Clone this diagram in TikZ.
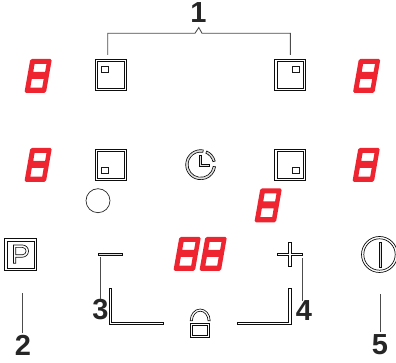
\documentclass[tikz,border=0pt]{standalone}
\usepackage{fontspec}
\setmainfont{Liberation Sans}
\usepackage{tikz}
\usetikzlibrary{arrows.meta,positioning}
\definecolor{segred}{RGB}{238,36,48}

\begin{document}
\begin{tikzpicture}[x=1pt,y=1pt,
zone box/.style={draw=black!95,line width=.8pt,minimum size=31pt,inner sep=0pt,outer sep=0pt},
zone inner/.style={draw=black!95,line width=.8pt,minimum size=26.6pt,inner sep=0pt},
zone mark/.style={draw=black!90,line width=.7pt,minimum size=6.4pt,inner sep=0pt},
key line/.style={draw=black!95,fill=black!12,line width=.65pt},
key thin/.style={draw=black!95,line width=.7pt},
leader/.style={draw=black!70,line width=.9pt},
callout/.style={font=\fontsize{29}{29}\selectfont\bfseries,text=black!85,inner sep=0pt},
seg eight/.pic={\fill[segred,even odd rule,rounded corners=1.6pt]
 (-13.6,-16.9) -- (-7.6,17.1) -- (13.9,17.1) -- (7.9,-16.9) -- cycle
 [sharp corners] (-4.8,4) -- (-3.4,12) -- (8.5,12) -- (7.1,4) -- cycle
 (-7.7,-11.7) -- (-6.2,-3) -- (5.7,-3) -- (4.2,-11.7) -- cycle;}]
\useasboundingbox (0,0) rectangle (396,363);
% red digits
\path (38,287) pic {seg eight};
\path (366.5,287) pic {seg eight};
\path (38,198) pic {seg eight};
\path (366,198) pic {seg eight};
\path (268,157.5) pic {seg eight};
\path (187,109) pic {seg eight};
\path (213,109) pic {seg eight};
% zones
\node[zone box] (zone tl) at (110.8,288) {};
\node[zone box] (zone tr) at (290.2,288) {};
\node[zone box] (zone bl) at (110.8,198) {};
\node[zone box] (zone br) at (290.2,198) {};
\node[zone inner] (inner tl) at (zone tl) {};
\node[zone inner] (inner tr) at (zone tr) {};
\node[zone inner] (inner bl) at (zone bl) {};
\node[zone inner] (inner br) at (zone br) {};
\node[zone mark] (mark tl) at (105,293.6) {};
\node[zone mark] (mark tr) at (296,293.6) {};
\node[zone mark] (mark bl) at (105,192.6) {};
\node[zone mark] (mark br) at (295.7,192.6) {};
% timer
\coordinate (clock c) at (200.7,198.3);
\draw[key line] (clock c) ++(80:15) arc (80:352:15) -- ++(352:-2.4) arc (352:80:12.6) -- cycle;
\draw[key line] (clock c) ++(66:15) arc (66:14:15) -- ++(14:-2.4) arc (14:66:12.6) -- cycle;
\draw[key line] (199.2,207.5) -- (199.2,196.2) -- (209.3,196.2) -- (209.3,198.2) -- (201.2,198.2) -- (201.2,207.5) -- cycle;
\node[draw=black!85,circle,line width=.7pt,minimum size=24pt,inner sep=0pt] (spare) at (98,162.3) {};
% keys
\node[zone box,minimum size=32pt] (park) at (20.7,108.5) {};
\node[zone inner,minimum size=27pt] (park inner) at (park) {};
\draw[key line,fill=white] (13.5,99.8) -- (13.5,118) -- (22.4,118) arc (90:-90:6.1) -- (15.8,105.8) -- (15.8,99.8) -- cycle
 (15.8,115.6) -- (22.4,115.6) arc (90:-90:3.7) -- (15.8,108.2) -- cycle;
\node[draw=black!95,circle,line width=.7pt,minimum size=36pt,inner sep=0pt] (power) at (379.5,108.5) {};
\node[draw=black!95,circle,line width=.7pt,minimum size=31.4pt,inner sep=0pt] (power inner) at (power) {};
\draw[key line] (379.5,96) rectangle (381.8,121);
\draw[key line] (98.7,107.5) rectangle (122.7,110);
\draw[key line,fill=white] (277.3,107.5) -- (288.8,107.5) -- (288.8,96.3) -- (291.2,96.3) -- (291.2,107.5) -- (302.7,107.5) -- (302.7,110) -- (291.2,110) -- (291.2,120.7) -- (288.8,120.7) -- (288.8,110) -- (277.3,110) -- cycle;
\draw[key line,fill=white] (109,74.7) -- (109,38.6) -- (163.4,38.6) -- (163.4,40.8) -- (111.2,40.8) -- (111.2,74.7) -- cycle;
\draw[key line,fill=white] (290.9,74.7) -- (290.9,38.6) -- (237.3,38.6) -- (237.3,40.8) -- (288.7,40.8) -- (288.7,74.7) -- cycle;
% lock
\draw[key line,fill=white] (190.2,42.3) arc (180:0:10 and 11.7) -- ++(-2.2,0) arc (0:180:7.8 and 9.5) -- cycle;
\draw[key thin] (190.8,40) rectangle (209.5,25.8);
\draw[key thin] (192.8,38) rectangle (207.5,27.8);
% callouts
\node[callout] (num1) at (198.5,350) {1};
\node[callout] (num2) at (23,17.5) {2};
\node[callout] (num3) at (100.5,53.5) {3};
\node[callout] (num4) at (304,52) {4};
\node[callout] (num5) at (380,18.5) {5};
\coordinate (end1a) at (107.7,308);
\coordinate (end1b) at (290.3,308);
\coordinate (end2) at (22.7,70);
\coordinate (end3) at (100.5,106.3);
\coordinate (end4) at (302.3,105);
\coordinate (end5) at (380.7,69);
\draw[leader] (end1a) -- (107.7,329.7) -- (195,329.7) -- (198.8,335.5) -- (202,329.7) -- (290.3,329.7) -- (end1b);
\draw[leader] ([yshift=2pt]num2.north -| end2) -- (end2);
\draw[leader] (num3.north -| end3) -- (end3);
\draw[leader] (num4.north -| end4) -- (end4);
\draw[leader] ([yshift=2pt]num5.north -| end5) -- (end5);
\end{tikzpicture}
\end{document}
